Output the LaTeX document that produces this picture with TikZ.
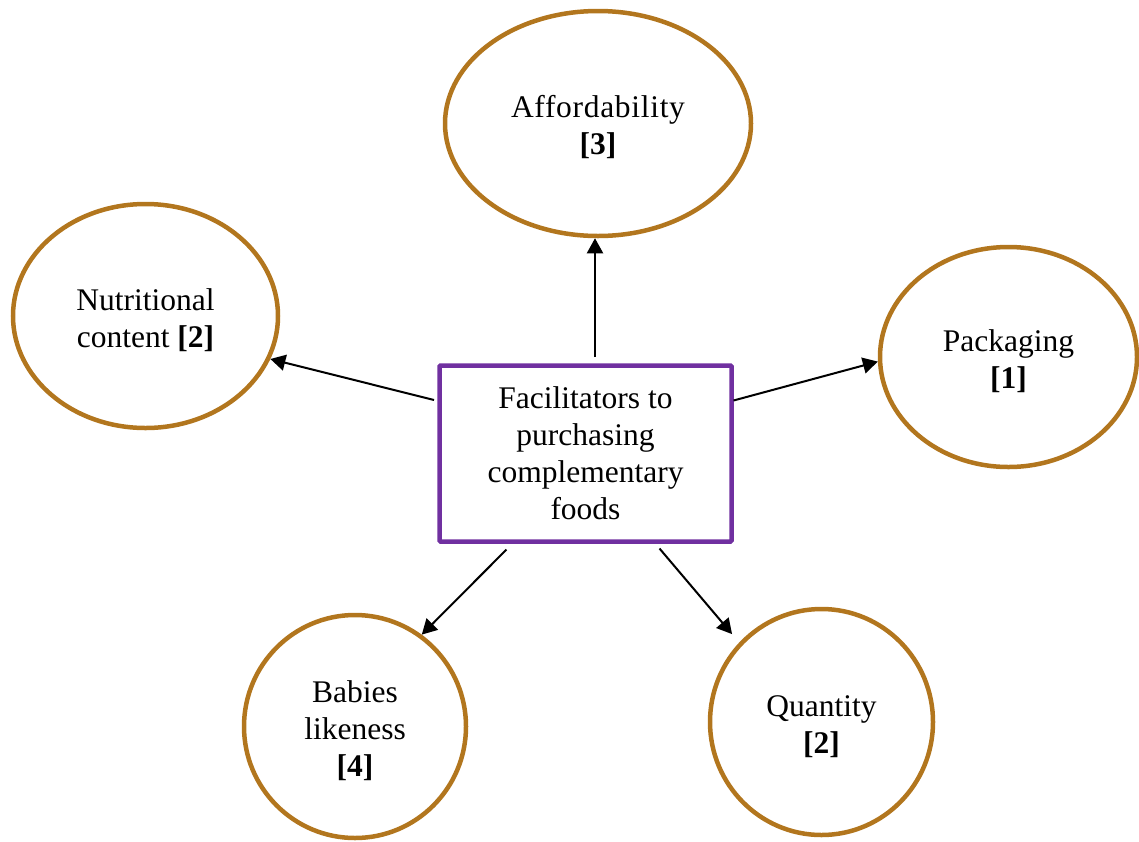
\documentclass[tikz,border=0pt]{standalone}
\usepackage{fontspec}
\setmainfont{Liberation Serif}
\usetikzlibrary{shapes.geometric,arrows.meta}
\definecolor{ringbrown}{RGB}{178,118,30}
\definecolor{boxpurple}{RGB}{112,48,160}
% extra room above the first line of the ring labels
\newcommand{\ringstrut}{\rule{0pt}{30pt}}
\begin{document}
\begin{tikzpicture}[x=1pt,y=-1pt,
  every node/.style={font=\fontsize{31.5}{37}\selectfont, align=center, inner sep=0pt},
  factor/.style={ellipse, draw=ringbrown, line width=4.5pt},
  centre/.style={rectangle, draw=boxpurple, line width=4.5pt, rounded corners=1pt,
                 minimum width=292pt, minimum height=176pt},
  arr/.style={line width=2pt, -{Triangle[length=15pt,width=16pt]}}]
\useasboundingbox (0,0) rectangle (1139,841);

% central box
\node[centre] (box) at (585.5,453.5)
  {Facilitators to\\purchasing\\complementary\\foods};

% surrounding factors
\node[factor, minimum width=306pt, minimum height=225pt] (aff) at (598,123.5)
  {\ringstrut{\addfontfeature{LetterSpace=2.2}Affordability}\\\textbf{[3]}};
\node[factor, minimum width=265pt, minimum height=224pt] (nut) at (145.5,316)
  {\ringstrut Nutritional\\content \textbf{[2]}};
\node[factor, minimum width=257pt, minimum height=220pt] (pack) at (1008.5,357)
  {\ringstrut Packaging\\\textbf{[1]}};
\node[factor, minimum width=222pt, minimum height=223pt] (bab) at (355,726.5)
  {\ringstrut Babies\\likeness\\\textbf{[4]}};
\node[factor, minimum width=223pt, minimum height=226pt] (qty) at (821.5,722)
  {\ringstrut Quantity\\\textbf{[2]}};

% arrow starts, just off the box border
\coordinate (sUp) at (595,357);
\coordinate (sLeft) at (434,400);
\coordinate (sRight) at (733.5,400.5);
\coordinate (sDownL) at (506.5,549.5);
\coordinate (sDownR) at (659.5,548.5);

\draw[arr] (sUp) -- (sUp |- aff.south);
\draw[arr] (sLeft) -- (nut.-19.6);
\draw[arr] (sRight) -- (pack.182);
\draw[arr] (sDownL) -- (bab.54);
\draw[arr, shorten >=11pt] (sDownR) -- (qty.136);
\end{tikzpicture}
\end{document}
